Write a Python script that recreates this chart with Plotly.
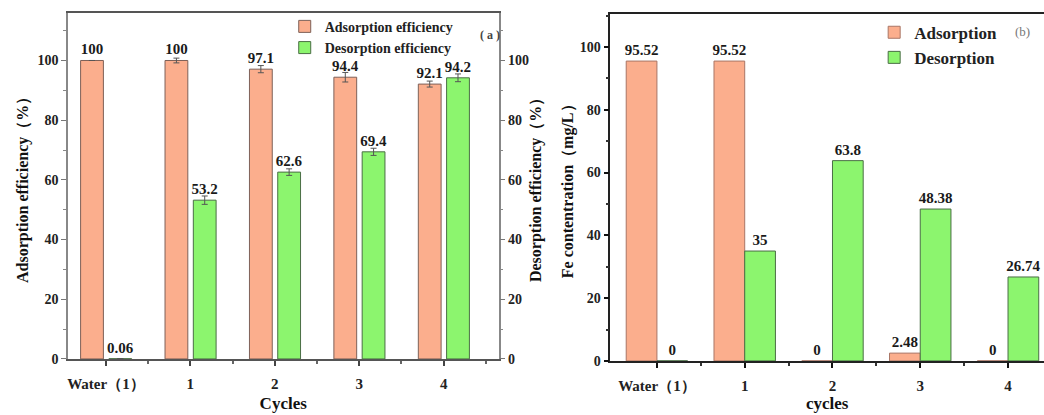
import plotly.graph_objects as go

# ---------------- data ----------------
categories = ["Water（1）", "1", "2", "3", "4"]

eff_adsorption = [100, 100, 97.1, 94.4, 92.1]
eff_adsorption_err = [0, 0.8, 1.2, 1.6, 1.0]
eff_desorption = [0.06, 53.2, 62.6, 69.4, 94.2]
eff_desorption_err = [0, 1.4, 1.1, 1.2, 1.3]

fe_adsorption = [95.52, 95.52, 0, 2.48, 0]
fe_desorption = [0, 35, 63.8, 48.38, 26.74]

y_ticks = [0, 20, 40, 60, 80, 100]

# ---------------- styling ----------------
W, H = 1044, 415
FONT = "Liberation Serif"
ADS_FILL = "#FBAE8D"
ADS_LINE = "#7E6158"
DES_FILL = "#8CF56E"
DES_LINE = "#4A6E45"

xpos = list(range(len(categories)))
mid = [i + 0.5 for i in xpos]


def px_x(p):
    return p / W


def px_y(p):
    return 1 - p / H


def lbl(vals):
    return [f"{v:g}" for v in vals]


def bold(items):
    return [f"<b>{s}</b>" for s in items]


tf = dict(family=FONT, size=15, color="#1a1a1a", weight="bold")

fig = go.Figure()

# ---- panel (a) ----
fig.add_trace(go.Bar(
    x=xpos, y=eff_adsorption, name="<b>Adsorption efficiency</b>",
    offset=-0.30, width=0.27,
    marker=dict(color=ADS_FILL, line=dict(color=ADS_LINE, width=1)),
    error_y=dict(type="data", array=eff_adsorption_err, color="#555", thickness=1, width=3),
    text=bold(lbl(eff_adsorption)), textposition="outside", textfont=tf,
    constraintext="none", cliponaxis=False,
    xaxis="x", yaxis="y", legend="legend",
))
fig.add_trace(go.Bar(
    x=xpos, y=eff_desorption, name="<b>Desorption efficiency</b>",
    offset=0.035, width=0.27,
    marker=dict(color=DES_FILL, line=dict(color=DES_LINE, width=1)),
    error_y=dict(type="data", array=eff_desorption_err, color="#555", thickness=1, width=3),
    text=bold(lbl(eff_desorption)), textposition="outside", textfont=tf,
    constraintext="none", cliponaxis=False,
    xaxis="x", yaxis="y2", legend="legend",
))

# ---- panel (b) ----
fig.add_trace(go.Bar(
    x=xpos, y=fe_adsorption, name="<b>Adsorption</b>",
    offset=-0.35, width=0.35,
    marker=dict(color=ADS_FILL, line=dict(color="#A97565", width=1)),
    text=bold(lbl(fe_adsorption)), textposition="outside", textfont=tf,
    constraintext="none", cliponaxis=False,
    xaxis="x2", yaxis="y3", legend="legend2",
))
fig.add_trace(go.Bar(
    x=xpos, y=fe_desorption, name="<b>Desorption</b>",
    offset=0.0, width=0.35,
    marker=dict(color=DES_FILL, line=dict(color=DES_LINE, width=1)),
    text=bold(lbl(fe_desorption)), textposition="outside", textfont=tf,
    constraintext="none", cliponaxis=False,
    xaxis="x2", yaxis="y3", legend="legend2",
))

tickfont_y = dict(family=FONT, size=14, color="#222")
tickfont_x = dict(family=FONT, size=15, color="#222")
titlefont = dict(family=FONT, size=17, color="#111")
ytitlefont = dict(family=FONT, size=16, color="#111")

fig.update_layout(
    width=W, height=H,
    margin=dict(l=0, r=0, t=0, b=0),
    paper_bgcolor="white", plot_bgcolor="white",
    barmode="overlay",
    showlegend=True,
    xaxis=dict(
        domain=[px_x(67), px_x(498)], range=[-0.45, 4.65], anchor="y",
        tickmode="array", tickvals=xpos, ticktext=bold(categories),
        ticks="outside", ticklen=5, tickwidth=1.5, tickcolor="#444",
        ticklabelstandoff=5,
        minor=dict(tickvals=mid, ticks="outside", ticklen=3, tickcolor="#666"),
        showline=True, linecolor="#555", linewidth=1.5, mirror=True,
        showgrid=False, zeroline=False, tickfont=tickfont_x,
        title=dict(text="<b>Cycles</b>", font=titlefont, standoff=6),
    ),
    yaxis=dict(
        domain=[px_y(366), px_y(13)], range=[0, 116], anchor="x",
        tickmode="array", tickvals=y_ticks, ticktext=bold(lbl(y_ticks)),
        ticks="outside", ticklen=5, tickcolor="#777",
        minor=dict(dtick=10, ticks="outside", ticklen=3, tickcolor="#888"),
        showline=True, linecolor="#888", linewidth=1.5,
        showgrid=False, zeroline=False, tickfont=tickfont_y,
        title=dict(text="<b>Adsorption efficiency（%）</b>", font=ytitlefont, standoff=5),
    ),
    yaxis2=dict(
        range=[0, 116], overlaying="y", side="right", anchor="x",
        tickmode="array", tickvals=y_ticks, ticktext=bold(lbl(y_ticks)),
        ticks="outside", ticklen=5, tickcolor="#777",
        minor=dict(dtick=10, ticks="outside", ticklen=3, tickcolor="#888"),
        showline=True, linecolor="#888", linewidth=1.5,
        showgrid=False, zeroline=False, tickfont=tickfont_y,
        title=dict(text="<b>Desorption efficiency（%）</b>", font=ytitlefont, standoff=2),
    ),
    xaxis2=dict(
        domain=[px_x(610), 1.0], range=[-0.53, 4.41], anchor="y3",
        tickmode="array", tickvals=xpos, ticktext=bold(categories),
        ticks="outside", ticklen=5, tickwidth=1.5, tickcolor="#111",
        ticklabelstandoff=5,
        minor=dict(tickvals=mid, ticks="outside", ticklen=3, tickcolor="#333"),
        showline=True, linecolor="#222", linewidth=2, mirror=True,
        showgrid=False, zeroline=False, tickfont=tickfont_x,
        title=dict(text="<b>cycles</b>", font=titlefont, standoff=3),
    ),
    yaxis3=dict(
        domain=[px_y(368), px_y(14)], range=[0, 110.6], anchor="x2",
        tickmode="array", tickvals=y_ticks, ticktext=bold(lbl(y_ticks)),
        ticks="outside", ticklen=5, tickwidth=1.5, tickcolor="#111",
        minor=dict(dtick=10, ticks="outside", ticklen=3, tickcolor="#333"),
        showline=True, linecolor="#222", linewidth=1.5,
        showgrid=False, zeroline=False, tickfont=tickfont_y,
        title=dict(text="<b>Fe contentration（mg/L）</b>", font=ytitlefont, standoff=2),
    ),
    legend=dict(
        x=px_x(284), y=px_y(11), xanchor="left", yanchor="top",
        bgcolor="rgba(0,0,0,0)", itemwidth=30, tracegroupgap=0,
        font=dict(family=FONT, size=14, color="#222"),
    ),
    legend2=dict(
        x=px_x(874), y=px_y(15), xanchor="left", yanchor="top",
        bgcolor="rgba(0,0,0,0)", itemwidth=30, tracegroupgap=0,
        font=dict(family=FONT, size=17, color="#222"),
    ),
    annotations=[
        dict(text="<b>( a )</b>", x=px_x(489), y=px_y(27), xref="paper", yref="paper",
             showarrow=False, font=dict(family=FONT, size=12, color="#444")),
        dict(text="(b)", x=px_x(1032), y=px_y(22), xref="paper", yref="paper",
             showarrow=False, font=dict(family=FONT, size=13, color="#777")),
    ],
)

fig.write_html("out.html")
